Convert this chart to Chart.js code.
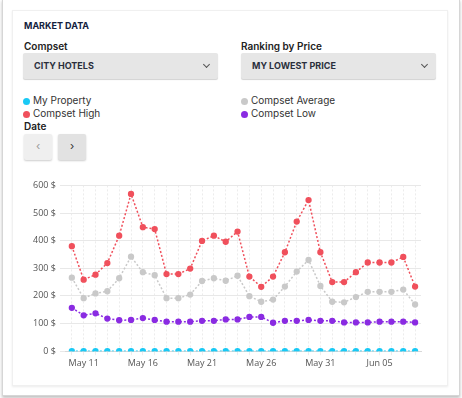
<!DOCTYPE html>
<html>
<head>
<meta charset="utf-8">
<script src="https://cdn.jsdelivr.net/npm/chart.js@4"></script>
<style>
  body { margin: 0; background: #fff; font-family: "Inter", "Open Sans", sans-serif; color: #1f2433; }
  .frame { position: absolute; left: 2px; top: -1px; width: 456px; height: 395px; border: 1px solid #d6d6d6; box-shadow: 0 2px 3px rgba(0,0,0,0.25); background: #fff; }
  .card { position: absolute; left: 12px; top: 10px; width: 434px; height: 374px; border: 1px solid #f0f0f0; box-shadow: 0 1px 2px rgba(0,0,0,0.08); }
  .abs { position: absolute; white-space: nowrap; }
  .title { left: 24px; top: 20px; font-size: 9px; font-weight: 700; color: #14213d; }
  .lbl { font-size: 10px; font-weight: 600; color: #222; }
  .select { position: absolute; height: 26px; background: #e6e6e6; border-radius: 2px; box-shadow: 0 1px 1px rgba(0,0,0,0.18); }
  .select span { position: absolute; left: 11px; top: 7px; font-size: 9px; font-weight: 700; color: #2a2f3c; }
  .select i { position: absolute; right: 9px; top: 9px; width: 4px; height: 4px; border-right: 1px solid #555; border-bottom: 1px solid #555; transform: rotate(45deg); }
  .leg { font-size: 10px; color: #333; }
  .leg b { display: inline-block; width: 7px; height: 7px; border-radius: 50%; margin-right: 3px; vertical-align: -0.5px; }
  .btn { position: absolute; top: 134px; width: 28px; height: 26px; border-radius: 2px; box-shadow: 0 1px 2px rgba(0,0,0,0.2); font-size: 11px; text-align: center; line-height: 25px; color: #333; }
  #wrap { position: absolute; left: 29px; top: 176px; width: 398px; height: 196px; }
</style>
</head>
<body>
<div class="frame"></div>
<div class="card"></div>
<div class="abs title">MARKET DATA</div>
<div class="abs lbl" style="left:24px;top:40px;">Compset</div>
<div class="abs lbl" style="left:241px;top:40px;">Ranking by Price</div>
<div class="select" style="left:23px;top:53px;width:195px;"><span>CITY HOTELS</span><i></i></div>
<div class="select" style="left:241px;top:53px;width:195px;"><span>MY LOWEST PRICE</span><i></i></div>
<div id="legend"></div>
<div class="abs lbl" style="left:24px;top:120px;">Date</div>
<div class="btn" style="left:24px;background:#efefef;color:#999;">&#8249;</div>
<div class="btn" style="left:58px;background:#e2e2e2;">&#8250;</div>
<div id="wrap"><canvas id="marketChart"></canvas></div>
<script>
const dates = ['May 10', 'May 11', 'May 12', 'May 13', 'May 14', 'May 15', 'May 16', 'May 17', 'May 18', 'May 19',
  'May 20', 'May 21', 'May 22', 'May 23', 'May 24', 'May 25', 'May 26', 'May 27', 'May 28', 'May 29',
  'May 30', 'May 31', 'Jun 01', 'Jun 02', 'Jun 03', 'Jun 04', 'Jun 05', 'Jun 06', 'Jun 07', 'Jun 08'];
const myProperty = [0, 0, 0, 0, 0, 0, 0, 0, 0, 0, 0, 0, 0, 0, 0, 0, 0, 0, 0, 0, 0, 0, 0, 0, 0, 0, 0, 0, 0, 0];
const compsetHigh = [380, 259, 277, 319, 418, 569, 449, 442, 279, 279, 299, 399, 418, 396, 433,
  270, 233, 270, 358, 469, 547, 358, 250, 250, 286, 321, 321, 321, 341, 234];
const compsetAverage = [266, 192, 209, 217, 264, 342, 286, 275, 192, 192, 205, 254, 264, 255, 273,
  199, 179, 187, 234, 288, 330, 236, 179, 177, 196, 215, 215, 215, 223, 169];
const compsetLow = [157, 130, 137, 118, 112, 113, 120, 113, 107, 107, 107, 110, 110, 115, 115,
  124, 124, 103, 110, 110, 113, 110, 110, 104, 104, 104, 107, 107, 107, 104];
const yTicks = [0, 100, 200, 300, 400, 500, 600];

const series = [
  { label: 'My Property', data: myProperty, color: '#19c9f5', col: 0, row: 0 },
  { label: 'Compset High', data: compsetHigh, color: '#f0505c', col: 0, row: 1 },
  { label: 'Compset Average', data: compsetAverage, color: '#c9c9c9', col: 1, row: 0 },
  { label: 'Compset Low', data: compsetLow, color: '#8a2be2', col: 1, row: 1 }
];

// html legend in two columns
const legend = document.getElementById('legend');
series.forEach(s => {
  const d = document.createElement('div');
  d.className = 'abs leg';
  d.style.left = (s.col ? 241 : 23) + 'px';
  d.style.top = (94 + s.row * 13) + 'px';
  d.innerHTML = '<b style="background:' + s.color + '"></b>' + s.label;
  legend.appendChild(d);
});

const ctx = document.getElementById('marketChart').getContext('2d');
new Chart(ctx, {
  type: 'line',
  data: {
    labels: dates,
    datasets: series.slice().reverse().map(s => ({
      label: s.label,
      data: s.data,
      borderColor: s.color,
      backgroundColor: s.color,
      borderWidth: 1.5,
      borderDash: [2, 2],
      pointRadius: 2.4,
      pointHoverRadius: 2.4,
      tension: 0
    }))
  },
  options: {
    animation: false,
    maintainAspectRatio: false,
    plugins: { legend: { display: false }, tooltip: { enabled: false } },
    layout: { padding: { top: 4, right: 6 } },
    scales: {
      x: {
        offset: true,
        grid: { color: '#ececec', borderDash: [2, 2], tickLength: 4 },
        border: { color: '#d8d8d8', dash: [2, 2] },
        ticks: {
          autoSkip: false,
          maxRotation: 0,
          color: '#555',
          font: { family: 'Open Sans', size: 9 },
          callback: (v, i) => (i % 5 === 1 ? dates[i] : '')
        }
      },
      y: {
        min: 0,
        max: 600,
        afterBuildTicks: axis => { axis.ticks = yTicks.map(v => ({ value: v })); },
        grid: { color: '#e8e8e8', tickLength: 6 },
        border: { display: false },
        ticks: {
          color: '#555',
          padding: 4,
          font: { family: 'Open Sans', size: 9 },
          callback: v => v + ' $'
        }
      }
    }
  }
});
</script>
</body>
</html>
